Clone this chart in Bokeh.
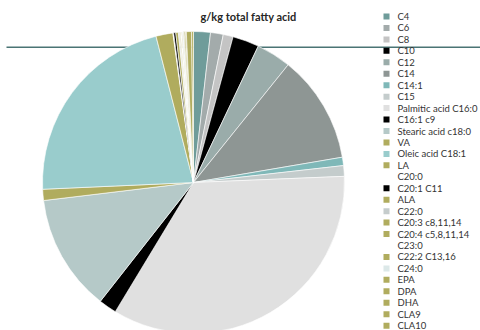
import math

from bokeh.core.properties import value
from bokeh.embed import file_html
from bokeh.models import ColumnDataSource
from bokeh.plotting import figure
from bokeh.resources import INLINE

# Fatty acid profile, g/kg total fatty acid
acids = [
    "C4", "C6", "C8", "C10", "C12", "C14", "C14:1", "C15",
    "Palmitic acid C16:0", "C16:1 c9", "Stearic acid  c18:0", "VA",
    "Oleic acid C18:1", "LA", "C20:0", "C20:1 C11", "ALA", "C22:0",
    "C20:3 c8,11,14", "C20:4 c5,8,11,14", "C23:0", "C22:2 C13,16",
    "C24:0", "EPA", "DPA", "DHA", "CLA9", "CLA10",
]
gkg = [
    18.0, 13.6, 10.6, 28.3, 37.2, 115.3, 8.9, 11.4,
    342.8, 19.2, 125.0, 11.9,
    217.0, 18.1, 0.8, 2.2, 2.8, 1.1,
    0.8, 0.8, 0.8, 0.8,
    1.1, 0.8, 1.4, 0.8, 5.6, 2.0,
]
colors = [
    "#6f9c9a", "#a3abab", "#c4c4c4", "#000000", "#9aacaa", "#8e9694", "#7fb8b8", "#c4cccc",
    "#e0e0e0", "#000000", "#b5c9c8", "#b0ac5e",
    "#99cccc", "#b0ac5e", "#ffffff", "#000000", "#b0ac5e", "#c5cccc",
    "#b0ac5e", "#b0ac5e", "#ffffff", "#b0ac5e",
    "#dce8e8", "#b0ac5e", "#b0ac5e", "#b0ac5e", "#b0ac5e", "#b0ac5e",
]

subtitle = "g/kg total fatty acid"

W, H = 480, 330
FONT = "Lato"

p = figure(width=W, height=H, x_range=(0, W), y_range=(0, H),
           x_axis_type=None, y_axis_type=None,
           output_backend="svg", toolbar_location=None, min_border=0)
p.grid.visible = False
p.outline_line_color = None
p.background_fill_color = "white"
p.border_fill_color = "white"


def py(y_px):
    """Convert a top-down pixel row into the plot's y coordinate."""
    return H - y_px


# rule under the heading
p.segment(x0=[6], y0=[py(46.8)], x1=[W], y1=[py(46.8)], line_color="#4a7474", line_width=1.6)

# pie slices, clockwise from 12 o'clock
total = sum(gkg)
starts, ends = [], []
acc = 0.0
for v in gkg:
    a0 = acc / total * 2 * math.pi
    acc += v
    a1 = acc / total * 2 * math.pi
    starts.append(math.pi / 2 - a0)
    ends.append(math.pi / 2 - a1)

pie = ColumnDataSource(dict(start=starts, end=ends, color=colors, name=acids))
p.wedge(x=193, y=py(182), radius=151, start_angle="start", end_angle="end",
        direction="clock", fill_color="color", line_color="white", line_width=0.6,
        source=pie)

# subtitle
p.text(x=[248], y=[py(16)], text=[subtitle], text_font=value(FONT), text_font_style="bold",
       text_font_size="11px", text_align="center", text_baseline="middle", text_color="#262626")

# legend
ly = [py(16 + 11.45 * i) for i in range(len(acids))]
leg = ColumnDataSource(dict(y=ly, color=colors, name=acids))
p.rect(x=386, y="y", width=6, height=6, fill_color="color", line_color=None, source=leg)
p.text(x=397, y="y", text="name", text_font=value(FONT), text_font_size="9.5px",
       text_baseline="middle", text_color="#333333", source=leg)

open("out.html", "w").write(file_html(p, INLINE))
